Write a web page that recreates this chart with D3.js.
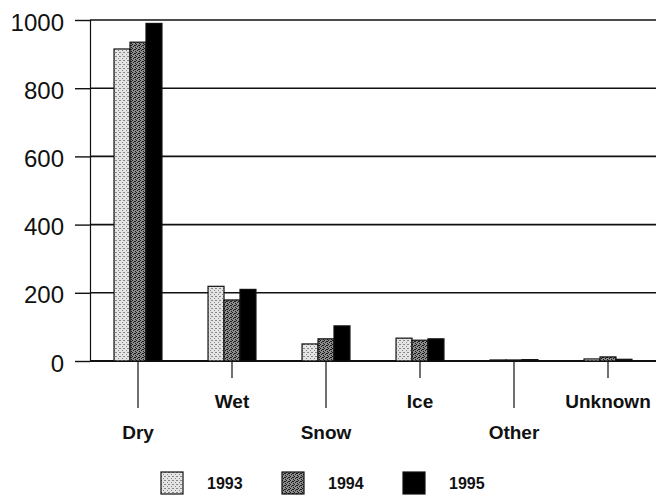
<!DOCTYPE html>
<html>
<head>
<meta charset="utf-8">
<script src="https://cdn.jsdelivr.net/npm/d3@7"></script>
<style>
  html, body { margin: 0; padding: 0; background: #fff; }
  svg { display: block; font-family: "Liberation Sans", Arial, sans-serif; }
  .cat text { font-size: 19px; font-weight: bold; fill: #111; }
  .yax text { font-size: 24px; fill: #111; }
  .legend text { font-size: 16px; font-weight: bold; fill: #111; }
</style>
</head>
<body>
<svg class="root"></svg>
<script>
var categories = ["Dry", "Wet", "Snow", "Ice", "Other", "Unknown"];
var years = ["1993", "1994", "1995"];
var v1993 = [915, 219, 50, 67, 3, 6];
var v1994 = [935, 179, 65, 61, 3, 12];
var v1995 = [990, 210, 103, 65, 4, 5];
var yTicks = [0, 200, 400, 600, 800, 1000];

var series = [v1993, v1994, v1995];

var W = 656, H = 495,
    plotL = 90, plotR = 656, plotT = 20, plotB = 361;

var svg = d3.select(".root").attr("width", W).attr("height", H);

// stipple fills like the scanned original
var defs = svg.append("defs");
var p1 = defs.append("pattern").attr("id", "p1993").attr("patternUnits", "userSpaceOnUse")
    .attr("width", 4).attr("height", 4);
p1.append("rect").attr("width", 4).attr("height", 4).attr("fill", "#e4e4e4");
[[0, 0], [2, 2], [3, 0]].forEach(function(d) {
  p1.append("rect").attr("x", d[0]).attr("y", d[1]).attr("width", 1).attr("height", 1).attr("fill", "#888");
});
var p2 = defs.append("pattern").attr("id", "p1994").attr("patternUnits", "userSpaceOnUse")
    .attr("width", 4).attr("height", 4);
p2.append("rect").attr("width", 4).attr("height", 4).attr("fill", "#8c8c8c");
[[0, 0], [2, 1], [1, 2], [3, 3], [3, 1]].forEach(function(d) {
  p2.append("rect").attr("x", d[0]).attr("y", d[1]).attr("width", 1).attr("height", 1).attr("fill", "#1a1a1a");
});
var fills = ["url(#p1993)", "url(#p1994)", "#000"];

var x = d3.scaleBand().domain(categories).range([plotL + 1, plotR - 1]);
var groupW = x.bandwidth() * 0.51;
var xs = d3.scaleBand().domain(years).range([0, groupW]);
var y = d3.scaleLinear().domain([0, 1000]).range([plotB, plotT]);

// gridlines
svg.append("g").selectAll("line")
    .data(yTicks)
  .enter().append("line")
    .attr("x1", plotL).attr("x2", plotR)
    .attr("y1", function(d) { return y(d); })
    .attr("y2", function(d) { return y(d); })
    .attr("stroke", "#111")
    .attr("stroke-width", function(d) { return d === 0 ? 2 : 1.6; });

// y axis
var yAxis = d3.axisLeft(y).tickValues(yTicks).tickSize(15).tickPadding(11).tickFormat(d3.format("d"));
var ya = svg.append("g").attr("class", "yax")
    .attr("transform", "translate(" + plotL + ",0)")
    .call(yAxis);
ya.select(".domain").attr("stroke", "#111").attr("stroke-width", 1.2);
ya.selectAll(".tick line").attr("stroke", "#111").attr("stroke-width", 1.4);
ya.selectAll(".tick text").attr("dy", "0.42em").style("font-family", "Liberation Sans, Arial, sans-serif");

// bars
years.forEach(function(yr, j) {
  svg.append("g").selectAll("rect")
      .data(series[j])
    .enter().append("rect")
      .attr("x", function(d, i) { return x(categories[i]) + (x.bandwidth() - groupW) / 2 + xs(yr); })
      .attr("y", function(d) { return y(d); })
      .attr("width", xs.bandwidth())
      .attr("height", function(d) { return y(0) - y(d); })
      .attr("fill", fills[j])
      .attr("stroke", "#111")
      .attr("stroke-width", 1.2);
});

// category axis with staggered labels
var xAxis = d3.axisBottom(x).tickSize(0).tickPadding(0);
var xa = svg.append("g").attr("class", "cat")
    .attr("transform", "translate(0," + plotB + ")")
    .call(xAxis);
xa.select(".domain").remove();
xa.selectAll(".tick line")
    .attr("stroke", "#111").attr("stroke-width", 1.2)
    .attr("y1", 1)
    .attr("y2", function(d, i) { return i % 2 ? 17 : 47; });
xa.selectAll(".tick text")
    .attr("dy", null)
    .attr("y", function(d, i) { return i % 2 ? 47 : 78; })
    .style("font-family", "Liberation Sans, Arial, sans-serif");

// legend
var legend = svg.append("g").attr("class", "legend")
    .selectAll("g")
    .data(years)
  .enter().append("g")
    .attr("transform", function(d, i) { return "translate(" + (161 + i * 121) + ",472)"; });
legend.append("rect")
    .attr("width", 22).attr("height", 22)
    .attr("fill", function(d, i) { return fills[i]; })
    .attr("stroke", "#111").attr("stroke-width", 1.2);
legend.append("text")
    .attr("x", 46).attr("y", 17)
    .text(function(d) { return d; });
</script>
</body>
</html>
